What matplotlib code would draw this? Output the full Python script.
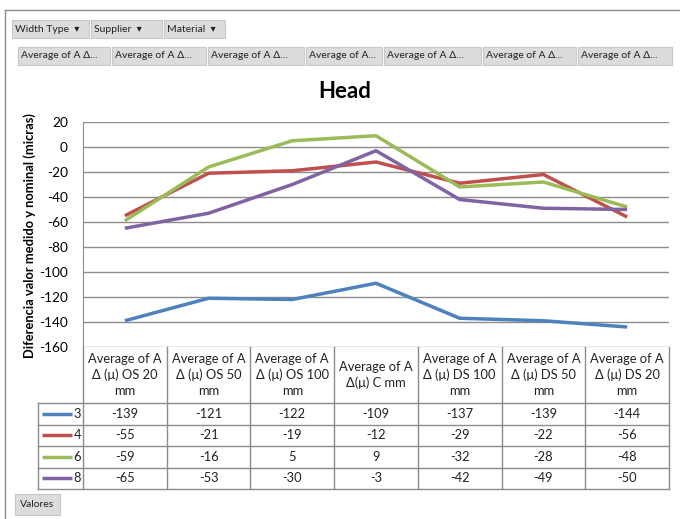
import matplotlib.pyplot as plt
import matplotlib as mpl
from matplotlib.patches import Rectangle

plt.rcParams['font.family'] = ['Lato', 'DejaVu Sans']
plt.rcParams['axes.unicode_minus'] = False

# data
columns = ["Average of A\nΔ (μ) OS 20\nmm", "Average of A\nΔ (μ) OS 50\nmm",
           "Average of A\nΔ (μ) OS 100\nmm", "Average of A\nΔ(μ) C mm",
           "Average of A\nΔ (μ) DS 100\nmm", "Average of A\nΔ (μ) DS 50\nmm",
           "Average of A\nΔ (μ) DS 20\nmm"]
series_names = ["3", "4", "6", "8"]
s3 = [-139, -121, -122, -109, -137, -139, -144]
s4 = [-55, -21, -19, -12, -29, -22, -56]
s6 = [-59, -16, 5, 9, -32, -28, -48]
s8 = [-65, -53, -30, -3, -42, -49, -50]
series = [s3, s4, s6, s8]
colors = ["#4F81BD", "#C0504D", "#9BBB59", "#8064A2"]
yticks = list(range(-160, 21, 20))

W, H = 680, 519
fig = plt.figure(figsize=(6.8, 5.19), dpi=100)

# overlay axes in pixel coords for frame, buttons and table
ov = fig.add_axes([0, 0, 1, 1])
ov.set_xlim(0, W)
ov.set_ylim(H, 0)
ov.axis('off')

# chart frame
ov.plot([5, 5], [10, H], color="#8c8c8c", lw=1)
ov.plot([5, W], [10, 10], color="#8c8c8c", lw=1)

def button(x0, y0, w, h, text, center=False):
    ov.add_patch(Rectangle((x0, y0), w, h, facecolor="#dcdcdc", edgecolor="#c8c8c8", lw=0.8))
    if center:
        ov.text(x0 + w / 2, y0 + h / 2, text, fontsize=7.5, va='center', ha='center', color="#222222")
    else:
        ov.text(x0 + 3, y0 + h / 2, text, fontsize=7.5, va='center', ha='left', color="#222222")

button(12, 20, 77, 18, "Width Type  ▾")
button(91, 20, 71, 18, "Supplier  ▾")
button(164, 20, 61, 18, "Material  ▾")
bx = [18, 112, 208, 306, 384, 483, 578]
bw = [92, 94, 96, 76, 97, 93, 94]
for i in range(7):
    label = "Average of A..." if i == 3 else "Average of A Δ..."
    button(bx[i], 47, bw[i], 18, label)
button(15, 494, 45, 21, "Valores", center=True)

ov.text(345, 92, "Head", fontsize=16, fontweight='bold', ha='center', va='center')
ov.text(30, 236, "Diferencia valor medido y nominal (micras)", fontsize=9.3, fontweight='bold',
        rotation=90, ha='center', va='center')

# plot area
left, right, top, bottom = 83, 669, 122, 347
ax = fig.add_axes([left / W, 1 - bottom / H, (right - left) / W, (bottom - top) / H])
ax.set_facecolor('none')
for yv in yticks:
    ax.axhline(yv, color="#8c8c8c", lw=1, zorder=0)
x = list(range(len(columns)))
for vals, c in zip(series, colors):
    ax.plot(x, vals, color=c, lw=2.5, solid_capstyle='butt', zorder=2)
ax.set_xlim(-0.5, len(columns) - 0.5)
ax.set_ylim(-160, 20)
ax.set_yticks(yticks)
ax.set_xticks([])
ax.tick_params(axis='y', length=0, pad=11, labelsize=9.8)
for sp in ['top', 'right', 'bottom']:
    ax.spines[sp].set_visible(False)
ax.spines['left'].set_color("#8c8c8c")

# data table
colw = (right - left) / len(columns)
hdr_bot = 403
row_h = 21.5
tbl_left = 38
line_c = "#8c8c8c"
nrows = len(series)
tbl_bot = hdr_bot + row_h * nrows
for j in range(len(columns) + 1):
    xx = left + j * colw
    ov.plot([xx, xx], [bottom, tbl_bot], color=line_c, lw=1)
for r in range(nrows + 1):
    yy = hdr_bot + r * row_h
    ov.plot([tbl_left, right], [yy, yy], color=line_c, lw=1)
ov.plot([tbl_left, tbl_left], [hdr_bot, tbl_bot], color=line_c, lw=1)
for j, col in enumerate(columns):
    ov.text(left + (j + 0.5) * colw, (bottom + hdr_bot) / 2, col, fontsize=9.3,
            ha='center', va='center', linespacing=1.4, color="#222222")
for r, (name, vals, c) in enumerate(zip(series_names, series, colors)):
    yc = hdr_bot + (r + 0.5) * row_h
    ov.plot([tbl_left + 4, tbl_left + 34], [yc, yc], color=c, lw=2.5, solid_capstyle='butt')
    ov.text(left - 2, yc, name, fontsize=9.3, ha='right', va='center', color="#222222")
    for j, v in enumerate(vals):
        ov.text(left + (j + 0.5) * colw, yc, str(v), fontsize=9.3, ha='center', va='center',
                color="#222222")

fig.savefig("out.png", dpi=100)
